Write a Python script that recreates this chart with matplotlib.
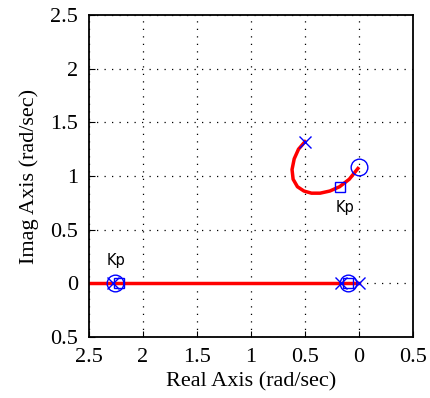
import matplotlib.pyplot as plt

# root locus branch (upper complex pole -> zero)
branch_re = [-0.50, -0.56, -0.60, -0.62, -0.61, -0.57, -0.51, -0.44, -0.36, -0.27, -0.18, -0.09, -0.01]
branch_im = [1.32, 1.25, 1.16, 1.06, 0.97, 0.90, 0.86, 0.84, 0.84, 0.86, 0.90, 0.97, 1.07]

# real-axis branch
real_re = [-2.5, 0.0]
real_im = [0.0, 0.0]

# poles, zeros, current gain locations
poles_re = [-0.50, -2.28, -0.17, 0.0]
poles_im = [1.32, 0.0, 0.0, 0.0]
zeros_re = [0.0, -2.26, -0.10]
zeros_im = [1.08, 0.0, 0.0]
gain_re = [-0.18, -2.22, -0.10]
gain_im = [0.90, 0.0, 0.0]

kp_labels = [(-2.25, 0.21), (-0.13, 0.71)]

xticks = [-2.5, -2, -1.5, -1, -0.5, 0, 0.5]
xticklabels = ["2.5", "2", "1.5", "1", "0.5", "0", "0.5"]
yticks = [-0.5, 0, 0.5, 1, 1.5, 2, 2.5]
yticklabels = ["0.5", "0", "0.5", "1", "1.5", "2", "2.5"]

plt.rcParams["font.family"] = "Liberation Serif"

fig = plt.figure(figsize=(4.3, 3.98), dpi=100)
ax = fig.add_axes([89 / 430, 1 - 337 / 398, 324 / 430, 322 / 398])

ax.plot(real_re, real_im, color="red", linewidth=2.5)
ax.plot(branch_re, branch_im, color="red", linewidth=2.5)
ax.plot(poles_re, poles_im, "x", color="blue", markersize=9, markeredgewidth=1.0, linestyle="none")
ax.plot(zeros_re, zeros_im, "o", color="blue", markerfacecolor="none", markersize=12, markeredgewidth=1.0, linestyle="none")
ax.plot(gain_re, gain_im, "s", color="blue", markerfacecolor="none", markersize=7, markeredgewidth=1.0, linestyle="none")

for x, y in kp_labels:
    ax.text(x, y, "Kp", fontsize=10.5, family="DejaVu Sans", ha="center", va="center")

ax.set_xlim(-2.5, 0.5)
ax.set_ylim(-0.5, 2.5)
ax.set_xticks(xticks)
ax.set_xticklabels(xticklabels)
ax.set_yticks(yticks)
ax.set_yticklabels(yticklabels)
ax.tick_params(direction="in", labelsize=16, length=4)
ax.tick_params(axis="x", pad=8)
ax.tick_params(axis="y", pad=8)
ax.grid(True, color="black", linestyle=(0, (1, 5)), linewidth=0.9)
for s in ax.spines.values():
    s.set_linewidth(1.3)

ax.set_xlabel("Real Axis (rad/sec)", fontsize=16, labelpad=4)
ax.set_ylabel("Imag Axis (rad/sec)", fontsize=16, labelpad=8)

fig.savefig("out.png", dpi=100)
